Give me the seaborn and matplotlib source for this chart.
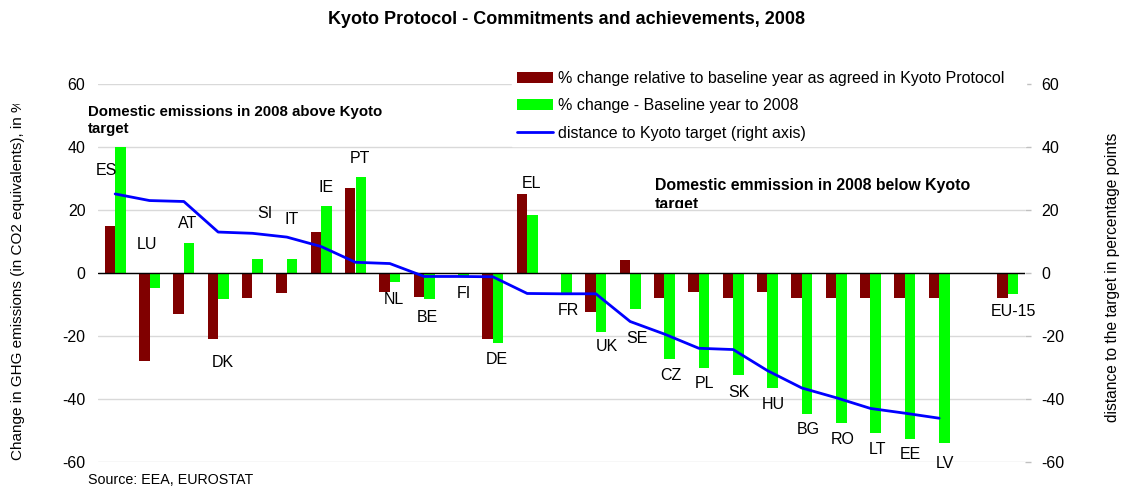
import numpy as np
import pandas as pd
import matplotlib
matplotlib.use("Agg")
import matplotlib.pyplot as plt
import seaborn as sns
from matplotlib.patches import Patch
from matplotlib.lines import Line2D
from matplotlib.transforms import Bbox, TransformedBbox

# Member states (blank slot separates the EU-15 aggregate)
countries = ["ES", "LU", "AT", "DK", "SI", "IT", "IE", "PT", "NL", "BE", "FI", "DE",
             "EL", "FR", "UK", "SE", "CZ", "PL", "SK", "HU", "BG", "RO", "LT", "EE",
             "LV", "", "EU-15"]

# % change relative to base year as agreed in the Kyoto Protocol
kyoto_commitment = [15, -28, -13, -21, -8, -6.5, 13, 27, -6, -7.5, 0, -21,
                    25, 0, -12.5, 4, -8, -6, -8, -6, -8, -8, -8, -8,
                    -8, np.nan, -8]

# % change from base year to 2008
change_2008 = [40, -4.9, 9.6, -8.1, 4.5, 4.5, 21.4, 30.4, -3, -8.3, -0.9, -22.3,
               18.5, -6.3, -18.8, -11.3, -27.4, -30, -32.5, -36.6, -44.7, -47.5, -50.7, -52.6,
               -54.1, np.nan, -6.8]

# distance to the Kyoto target, percentage points (right axis)
distance_to_target = [25.1, 23.0, 22.7, 13.0, 12.6, 11.4, 8.4, 3.4, 3.0, -1.1, -1.1, -1.2,
                      -6.5, -6.6, -6.6, -15.4, -19.4, -23.9, -24.3, -31.0, -36.5, -39.6, -43.0, -44.5,
                      -46.1]

SERIES = ["% change relative to baseline year as agreed in Kyoto Protocol",
          "% change - Baseline year to 2008"]
LINE_LABEL = "distance to Kyoto target (right axis)"

# country label placement (y in data units, x offset in category units)
label_y = [32.4, 9.1, 15.6, -28.3, 19, 17, 27.3, 36.2, -8.3, -14.1, -6.5, -27.4,
           28.3, -11.8, -23.4, -20.8, -32.6, -35.2, -37.9, -41.8, -49.7, -52.9, -56.1, -57.7,
           -60.6, None, -12.2]
label_dx = [-0.25, -0.08, 0.1, 0.13, 0.36, 0.14, 0.13, 0.14, 0.12, 0.1, 0.16, 0.11,
            0.14, 0.2, 0.33, 0.2, 0.19, 0.17, 0.17, 0.17, 0.2, 0.18, 0.19, 0.17,
            0.16, 0, 0.15]

DARK_RED = "#800000"
GREEN = "#00ff00"
BLUE = "#0000ff"

sns.set_theme(style="white")
plt.rcParams["font.family"] = ["Liberation Sans", "DejaVu Sans"]
plt.rcParams["axes.unicode_minus"] = False
plt.rcParams["text.color"] = "black"
plt.rcParams["axes.labelcolor"] = "black"
plt.rcParams["ytick.color"] = "black"

W, H = 1123, 488
fig = plt.figure(figsize=(W / 100, H / 100), dpi=100)
ax = fig.add_axes([98 / W, 26 / H, (1025 - 98) / W, (462 - 84) / H])

df = pd.DataFrame({
    "country": countries * 2,
    "series": [SERIES[0]] * len(countries) + [SERIES[1]] * len(countries),
    "value": list(kyoto_commitment) + list(change_2008),
}).dropna()

sns.barplot(data=df, x="country", y="value", hue="series", order=countries,
            hue_order=SERIES, palette=[DARK_RED, GREEN], width=0.62,
            saturation=1, errorbar=None, legend=False, linewidth=0, ax=ax, zorder=2)

ax.set_xlim(-0.5, len(countries) - 0.5)
ax.set_ylim(-60, 60)
ax.set_yticks(range(-60, 61, 20))
ax.set_xticks([])
ax.set_xlabel("")
ax.set_ylabel("")
ax.grid(axis="y", color="#d9d9d9", lw=1, zorder=0)
ax.grid(axis="x", visible=False)
ax.axhline(0, color="black", lw=1, zorder=3)
for s in ax.spines.values():
    s.set_visible(False)
ax.tick_params(axis="y", length=0, pad=9, labelsize=11.5, labelcolor="black")

# right axis with the distance line
ax2 = ax.twinx()
sns.lineplot(x=np.arange(len(distance_to_target)), y=distance_to_target,
             color=BLUE, lw=2.0, ax=ax2)
ax2.set_ylim(-60, 60)
ax2.set_yticks(range(-60, 61, 20))
ax2.set_xlim(-0.5, len(countries) - 0.5)
ax2.grid(False)
for s in ax2.spines.values():
    s.set_visible(False)
ax2.tick_params(axis="y", right=True, length=4, width=1, color="#c0c0c0",
                pad=8, labelsize=11.5, labelcolor="black")

# country labels
for i, (c, y, dx) in enumerate(zip(countries, label_y, label_dx)):
    if y is None:
        continue
    ax.text(i + dx, y, c, ha="center", va="center", fontsize=11.5, color="black", zorder=5)

# title
fig.text(567 / W, 1 - 20 / H, "Kyoto Protocol - Commitments and achievements, 2008",
         ha="center", va="center", fontsize=13, fontweight="bold")

# annotations
fig.text(88 / W, 1 - 105 / H, "Domestic emissions in 2008 above Kyoto\ntarget",
         ha="left", va="top", fontsize=10.8, fontweight="bold", linespacing=1.25)
t_below = fig.text(655 / W, 1 - 178 / H, "Domestic emmission in 2008 below Kyoto\ntarget",
                   ha="left", va="top", fontsize=11.4, fontweight="bold", linespacing=1.35)
t_below.set_clip_box(TransformedBbox(Bbox.from_extents(0, (H - 208) / H, 1, 1), fig.transFigure))
t_below.set_clip_on(True)

# axis titles
ylab = fig.text(18 / W, 28 / H, "Change in GHG emissions (in CO2 equivalents), in %",
                rotation=90, ha="center", va="bottom", fontsize=11)
ylab.set_clip_box(TransformedBbox(Bbox.from_extents(0, 0, 1, (H - 104) / H), fig.transFigure))
ylab.set_clip_on(True)
fig.text(1113 / W, 1 - 277 / H, "distance to the target in percentage points",
         rotation=90, ha="center", va="center", fontsize=11.2)

# source note
fig.text(88 / W, 1 - 480 / H, "Source: EEA, EUROSTAT", ha="left", va="center", fontsize=10.3)

# legend on an opaque white box that hides the gridlines behind it
handles = [Patch(facecolor=DARK_RED, edgecolor="none"),
           Patch(facecolor=GREEN, edgecolor="none"),
           Line2D([], [], color=BLUE, lw=2.0)]
fig.legend(handles, SERIES + [LINE_LABEL], loc="upper left",
           bbox_to_anchor=(512 / W, 1 - 66 / H, (1026 - 512) / W, 0.0), mode="expand",
           fontsize=11.5, frameon=True,
           facecolor="white", edgecolor="white", framealpha=1, fancybox=False,
           handlelength=2.25, handleheight=0.7, handletextpad=0.3,
           labelspacing=0.78, borderpad=0.3, borderaxespad=0)

fig.savefig("out.png", dpi=100)
